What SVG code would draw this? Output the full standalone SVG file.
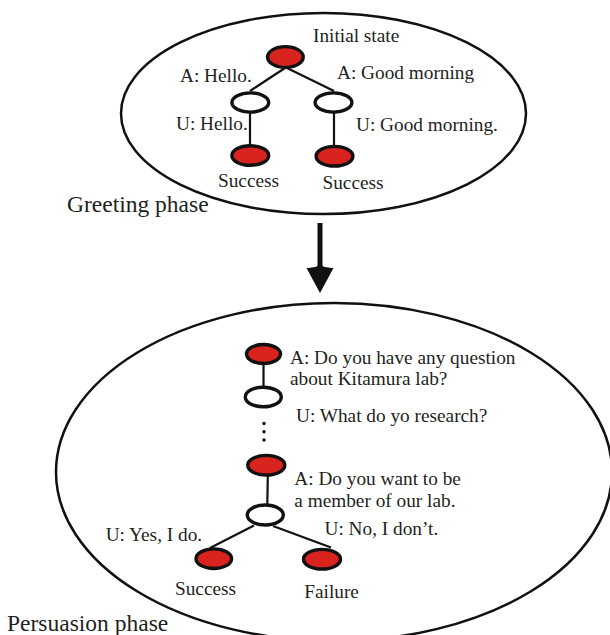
<svg xmlns="http://www.w3.org/2000/svg" width="610" height="635" viewBox="0 0 610 635">
  <style>
    .phase { fill: none; stroke: #111; stroke-width: 2.5; }
    .state-a { fill: #d9231e; stroke: #111; stroke-width: 3.4; }
    .state-u { fill: #fff; stroke: #111; stroke-width: 3.4; }
    .edge { stroke: #111; stroke-width: 2.2; fill: none; }
    text { font-family: "Liberation Serif", "Times New Roman", serif; fill: #231f20; }
    .lbl { font-size: 19.3px; }
    .big { font-size: 23.5px; }
  </style>

  <!-- phase containers -->
  <g id="greeting-phase">
    <ellipse class="phase" cx="323.5" cy="113.5" rx="202.5" ry="100.5"/>
    <text class="big" x="67" y="212">Greeting phase</text>
  </g>
  <g id="persuasion-phase">
    <ellipse class="phase" cx="334" cy="472" rx="278" ry="169"/>
    <text class="big" x="7" y="630.5">Persuasion phase</text>
  </g>

  <!-- connectors -->
  <g id="connectors">
    <line class="edge" x1="285" y1="68" x2="250" y2="91"/>
    <line class="edge" x1="287" y1="68" x2="334" y2="91"/>
    <line class="edge" x1="250" y1="112" x2="250" y2="146"/>
    <line class="edge" x1="334" y1="112" x2="334" y2="146"/>

    <line class="edge" x1="263.5" y1="364" x2="263.5" y2="387"/>
    <circle cx="264" cy="423.5" r="1.7" fill="#111"/>
    <circle cx="264" cy="431.7" r="1.7" fill="#111"/>
    <circle cx="264" cy="440" r="1.7" fill="#111"/>
    <line class="edge" x1="267.8" y1="475" x2="267.3" y2="505"/>
    <line class="edge" x1="254" y1="525.5" x2="210" y2="548"/>
    <line class="edge" x1="273" y1="526" x2="331" y2="547.5"/>

    <!-- phase transition arrow -->
    <line x1="320" y1="223" x2="320" y2="270" stroke="#111" stroke-width="5"/>
    <path d="M306.5,268 Q314,268.5 320,265 Q326,268.5 333.5,268 L320,293 Z" fill="#111"/>
  </g>

  <!-- greeting dialogue states -->
  <g id="g-initial">
    <ellipse class="state-a" cx="285.4" cy="57" rx="17.8" ry="10.4"/>
    <text class="lbl" x="313" y="42">Initial state</text>
  </g>
  <g id="g-hello-a">
    <ellipse class="state-u" cx="250.3" cy="102.5" rx="18.4" ry="9.6"/>
    <text class="lbl" x="180" y="82">A: Hello.</text>
  </g>
  <g id="g-morning-a">
    <ellipse class="state-u" cx="333.5" cy="102.5" rx="18.4" ry="9.6"/>
    <text class="lbl" x="337" y="79">A: Good morning</text>
  </g>
  <g id="g-hello-u">
    <ellipse class="state-a" cx="250.3" cy="155.5" rx="18.4" ry="9.8"/>
    <text class="lbl" x="176" y="129.5">U: Hello.</text>
    <text class="lbl" x="218" y="187">Success</text>
  </g>
  <g id="g-morning-u">
    <ellipse class="state-a" cx="334.5" cy="156.2" rx="18.4" ry="9.8"/>
    <text class="lbl" x="356" y="131">U: Good morning.</text>
    <text class="lbl" x="322.5" y="188.5">Success</text>
  </g>

  <!-- persuasion dialogue states -->
  <g id="p-question">
    <ellipse class="state-a" cx="263.5" cy="354" rx="17" ry="9.5"/>
    <text class="lbl" x="290" y="363.5">A: Do you have any question</text>
    <text class="lbl" x="290" y="385">about Kitamura lab?</text>
  </g>
  <g id="p-research">
    <ellipse class="state-u" cx="263.3" cy="397" rx="18" ry="9.8"/>
    <text class="lbl" x="296" y="421.7">U: What do yo research?</text>
  </g>
  <g id="p-member">
    <ellipse class="state-a" cx="266.3" cy="465.2" rx="18.5" ry="9.8"/>
    <text class="lbl" x="294.3" y="485">A: Do you want to be</text>
    <text class="lbl" x="294.3" y="506.7">a member of our lab.</text>
  </g>
  <g id="p-answer">
    <ellipse class="state-u" cx="265.3" cy="515" rx="18" ry="10"/>
  </g>
  <g id="p-success">
    <ellipse class="state-a" cx="213.8" cy="558.7" rx="17.8" ry="9.8"/>
    <text class="lbl" x="105.7" y="540.7">U: Yes, I do.</text>
    <text class="lbl" x="175" y="595">Success</text>
  </g>
  <g id="p-failure">
    <ellipse class="state-a" cx="322" cy="559.2" rx="18.5" ry="9.8"/>
    <text class="lbl" x="324.5" y="535">U: No, I don’t.</text>
    <text class="lbl" x="304.3" y="598.3">Failure</text>
  </g>
</svg>
